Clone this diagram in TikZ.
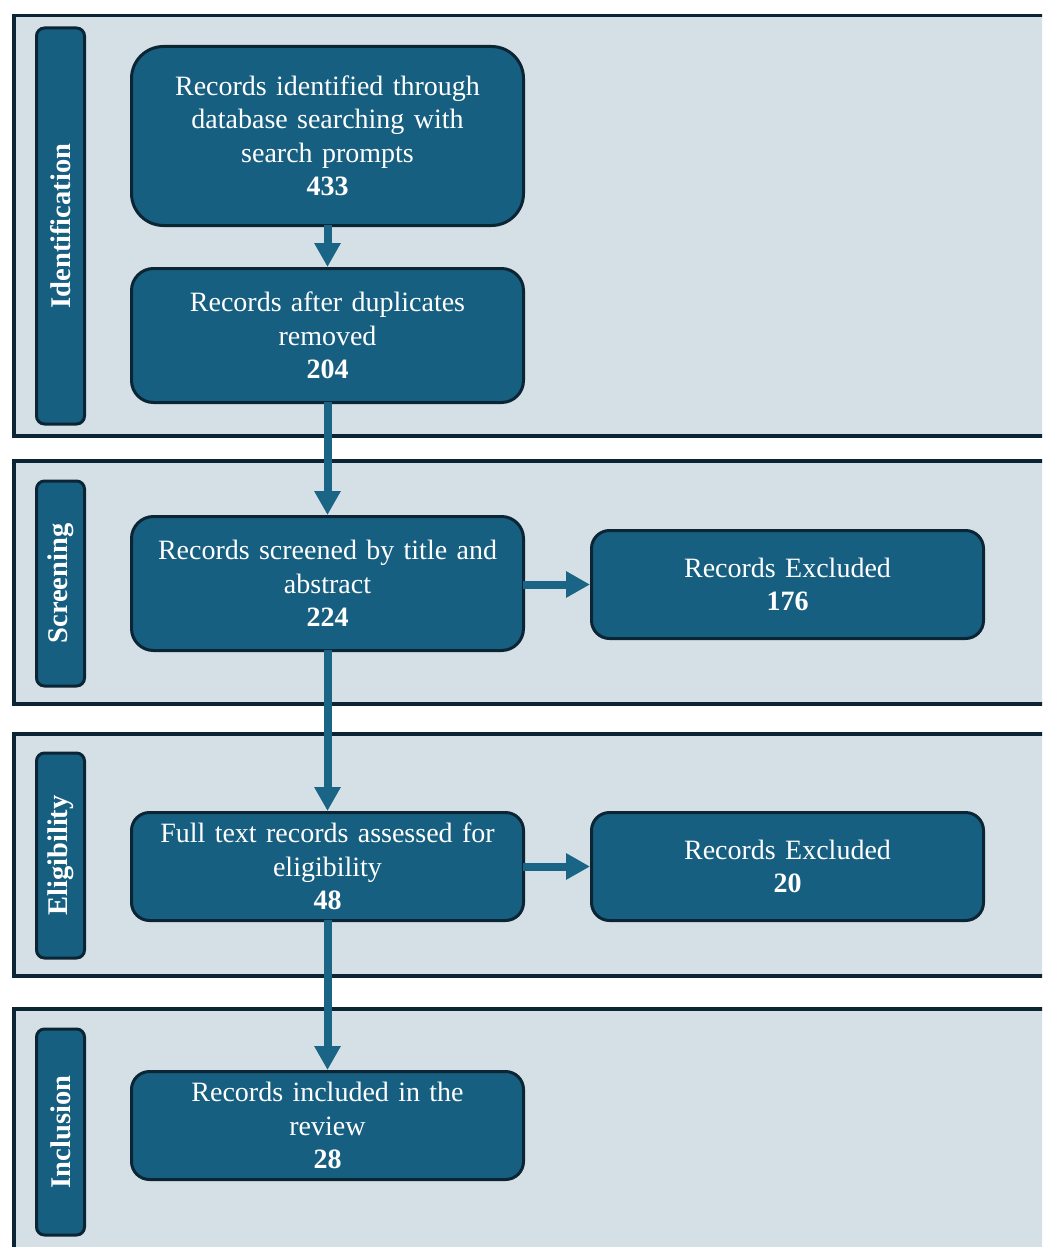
\documentclass[tikz,border=0pt]{standalone}
\usepackage{fontspec}
\setmainfont{Liberation Serif}
\usetikzlibrary{arrows.meta}
\definecolor{phasefill}{HTML}{D4E0E6}
\definecolor{edge}{HTML}{0B2534}
\definecolor{boxfill}{HTML}{175F80}
\definecolor{arrowc}{HTML}{1A6485}
\tikzset{
  phase/.style={draw=edge, fill=phasefill, line width=3.5pt},
  sidebar/.style={draw=edge, fill=boxfill, line width=3pt, rounded corners=8pt,
    minimum height=48pt, text=white, font=\fontsize{28.5}{33}\selectfont\bfseries, inner sep=0pt},
  box/.style={draw=edge, fill=boxfill, line width=3pt, minimum width=392pt,
    text=white, align=center, font=\fontsize{28}{33.5}\selectfont, inner sep=0pt, text width=370pt},
  flow/.style={draw=arrowc, line width=8pt, -{Triangle[length=24pt,width=25pt]}, shorten <=-2pt}
}
\begin{document}
\begin{tikzpicture}[x=1pt,y=-1pt]
\useasboundingbox (0,0) rectangle (1042,1247);
\clip (0,0) rectangle (1042,1247);
\fill[white] (0,0) rectangle (1042,1247);
% phases
\draw[phase] (14,15.5) rectangle (1070,436);
\draw[phase] (14,461) rectangle (1070,704);
\draw[phase] (14,734) rectangle (1070,976);
\draw[phase] (14,1009) rectangle (1070,1280);
% side labels
\node[sidebar, minimum width=396pt, rotate=90] (sid) at (60.5,226) {Identification};
\node[sidebar, minimum width=205pt, rotate=90] (ssc) at (60.5,583.5) {Screening};
\node[sidebar, minimum width=205pt, rotate=90] (sel) at (60.5,855.5) {Eligibility};
\node[sidebar, minimum width=206pt, rotate=90] (sin) at (60.5,1132) {Inclusion};
% boxes
\node[box, minimum height=179pt, rounded corners=32pt] (b1) at (327.5,136)
  {Records identified through\\database searching with\\search prompts\\\textbf{433}};
\node[box, minimum height=134pt, rounded corners=22pt] (b2) at (327.5,335.5)
  {Records after duplicates\\removed\\\textbf{204}};
\node[box, minimum height=134pt, rounded corners=22pt] (b3) at (327.5,583.5)
  {Records screened by title and\\abstract\\\textbf{224}};
\node[box, minimum height=108pt, rounded corners=18pt] (b4) at (327.5,866.5)
  {Full text records assessed for\\eligibility\\\textbf{48}};
\node[box, minimum height=108pt, rounded corners=18pt] (b5) at (327.5,1125.5)
  {Records included in the\\review\\\textbf{28}};
\node[box, minimum height=108pt, rounded corners=18pt] (r1) at (787.5,584.5)
  {Records Excluded\\\textbf{176}};
\node[box, minimum height=108pt, rounded corners=18pt] (r2) at (787.5,866.5)
  {Records Excluded\\\textbf{20}};
% connectors
\draw[flow] (b1.south) -- (b2.north);
\draw[flow] (b2.south) -- (b3.north);
\draw[flow] (b3.south) -- (b4.north);
\draw[flow] (b4.south) -- (b5.north);
\draw[flow] (b3.east |- r1.west) -- (r1.west);
\draw[flow] (b4.east |- r2.west) -- (r2.west);
\end{tikzpicture}
\end{document}
